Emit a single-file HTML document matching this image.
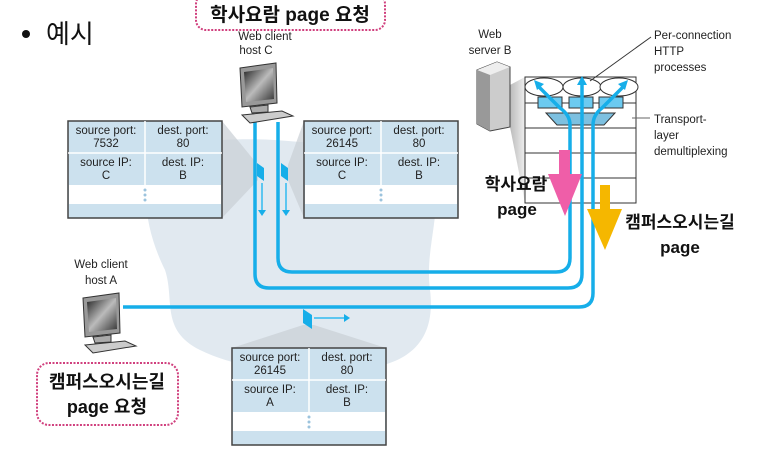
<!DOCTYPE html>
<html><head><meta charset="utf-8"><style>
html,body{margin:0;padding:0;background:#fff;width:784px;height:466px;overflow:hidden}
svg{display:block}
text{font-family:"Liberation Sans","Noto Sans CJK KR",sans-serif}
.s{font-size:11.5px;fill:#222}
.k{font-family:"Liberation Sans","Noto Sans CJK KR",sans-serif;font-weight:bold;fill:#111}
</style></head><body>
<svg width="784" height="466" viewBox="0 0 784 466" xmlns="http://www.w3.org/2000/svg">
<defs>
<linearGradient id="scr" x1="0" y1="0" x2="1" y2="1"><stop offset="0" stop-color="#222"/><stop offset="0.5" stop-color="#bbb"/><stop offset="1" stop-color="#333"/></linearGradient>
<linearGradient id="sh" x1="0" y1="0" x2="1" y2="0"><stop offset="0" stop-color="#bbb"/><stop offset="1" stop-color="#eee"/></linearGradient>
</defs>
<!-- cloud -->
<path d="M150 170 C160 140 230 135 300 142 C370 140 430 150 435 180 C440 220 425 250 430 290 C435 330 420 360 370 368 C300 375 240 370 200 350 C160 330 175 300 165 270 C150 240 140 200 150 170Z" fill="#e1e9f0"/>
<!-- shading wedges -->
<polygon points="222,121 258,165 258,180 222,218" fill="#c9ced4" opacity="0.7"/>
<polygon points="304,121 288,165 288,180 304,218" fill="#c9ced4" opacity="0.7"/>
<polygon points="232,348 303,325 314,325 386,348" fill="#c9ced4" opacity="0.7"/>
<polygon points="510,85 525,77 525,203 510,127" fill="url(#sh)"/>
<!-- tables -->
<g id="t1">
<rect x="68" y="121" width="154" height="97" fill="#cce1ee" stroke="#444" stroke-width="1.5"/>
<rect x="69" y="185" width="152" height="19" fill="#fff"/>
<line x1="68" y1="153" x2="222" y2="153" stroke="#fff" stroke-width="1.5"/>
<line x1="145" y1="121" x2="145" y2="204" stroke="#fff" stroke-width="1.5"/>
<circle cx="145" cy="190" r="1.5" fill="#9cc3dd"/><circle cx="145" cy="195" r="1.5" fill="#9cc3dd"/><circle cx="145" cy="200" r="1.5" fill="#9cc3dd"/>
</g>
<text class="s" x="106" y="134" text-anchor="middle">source port:</text><text class="s" x="106" y="147" text-anchor="middle">7532</text>
<text class="s" x="183" y="134" text-anchor="middle">dest. port:</text><text class="s" x="183" y="147" text-anchor="middle">80</text>
<text class="s" x="106" y="166" text-anchor="middle">source IP:</text><text class="s" x="106" y="179" text-anchor="middle">C</text>
<text class="s" x="183" y="166" text-anchor="middle">dest. IP:</text><text class="s" x="183" y="179" text-anchor="middle">B</text>
<use href="#t1" x="236" y="0"/>
<text class="s" x="342" y="134" text-anchor="middle">source port:</text><text class="s" x="342" y="147" text-anchor="middle">26145</text>
<text class="s" x="419" y="134" text-anchor="middle">dest. port:</text><text class="s" x="419" y="147" text-anchor="middle">80</text>
<text class="s" x="342" y="166" text-anchor="middle">source IP:</text><text class="s" x="342" y="179" text-anchor="middle">C</text>
<text class="s" x="419" y="166" text-anchor="middle">dest. IP:</text><text class="s" x="419" y="179" text-anchor="middle">B</text>
<use href="#t1" x="164" y="227"/>
<text class="s" x="270" y="361" text-anchor="middle">source port:</text><text class="s" x="270" y="374" text-anchor="middle">26145</text>
<text class="s" x="347" y="361" text-anchor="middle">dest. port:</text><text class="s" x="347" y="374" text-anchor="middle">80</text>
<text class="s" x="270" y="393" text-anchor="middle">source IP:</text><text class="s" x="270" y="406" text-anchor="middle">A</text>
<text class="s" x="347" y="393" text-anchor="middle">dest. IP:</text><text class="s" x="347" y="406" text-anchor="middle">B</text>
<!-- server box -->
<rect x="525" y="77" width="111" height="126" fill="#fff" stroke="#333" stroke-width="1"/>
<g stroke="#333" stroke-width="1"><line x1="525" y1="103" x2="636" y2="103"/><line x1="525" y1="128" x2="636" y2="128"/><line x1="525" y1="153" x2="636" y2="153"/><line x1="525" y1="178" x2="636" y2="178"/></g>
<g fill="#fff" stroke="#333"><ellipse cx="544" cy="87" rx="19" ry="9"/><ellipse cx="582" cy="87" rx="19" ry="9"/><ellipse cx="619" cy="87" rx="19" ry="9"/></g>
<g fill="#6ccaf0" stroke="#333"><rect x="538" y="97" width="24" height="11"/><rect x="569" y="97" width="24" height="11"/><rect x="599" y="97" width="24" height="11"/></g>
<polygon points="546,113 615,113 604,125 557,125" fill="#7dc0e0" stroke="#333"/>
<!-- connection lines -->
<g fill="none" stroke="#16aee9" stroke-width="3.5">
<path d="M278 122 V258 Q278 272 292 272 H556 Q570 272 570 258 V128 L570 125 Q570 115 560 108 L538 86"/>
<path d="M255 122 V274 Q255 288 269 288 H568 Q582 288 582 274 V82"/>
<path d="M123 307 H579 Q593 307 593 293 V125 Q593 115 602 108 L624 86"/>
</g>
<g fill="#16aee9"><polygon points="534,80 544,84 537,90"/><polygon points="582,76 577,85 587,85"/><polygon points="628,80 618,84 625,90"/></g>
<!-- pink/orange arrows -->
<polygon points="559,150 570,150 570,174 582,174 565,216 548,174 559,174" fill="#ef5ea8"/>
<polygon points="600,185 610,185 610,209 622,209 605,250 587,209 600,209" fill="#f5b700"/>
<!-- packets -->
<g fill="#16aee9"><polygon points="257,163 264,168 264,181 257,176"/><polygon points="281,163 288,168 288,181 281,176"/><polygon points="303,309 312,315 312,329 303,323"/></g>
<g stroke="#5cc6f0" stroke-width="2"><line x1="262" y1="183" x2="262" y2="211"/><line x1="286" y1="183" x2="286" y2="211"/><line x1="314" y1="318" x2="345" y2="318"/></g>
<g fill="#16aee9"><polygon points="258,210 266,210 262,216"/><polygon points="282,210 290,210 286,216"/><polygon points="344,314 350,318 344,322"/></g>
<!-- computers -->
<g id="pc">
<polygon points="240,68 276,63 277,103 242,107" fill="#999" stroke="#333"/>
<polygon points="244,72 273,68 274,99 246,102" fill="url(#scr)"/>
<polygon points="250,107 268,105 268,112 252,113" fill="#aaa" stroke="#333"/>
<polygon points="242,115 282,111 293,116 250,123" fill="#ccc" stroke="#333"/>
</g>
<use href="#pc" x="-157" y="230"/>
<polygon points="477,70 497,62 510,67 510,127 490,131 477,124" fill="#ccc" stroke="#444"/>
<polygon points="477,70 497,62 510,67 490,75" fill="#eee"/>
<polygon points="477,70 490,75 490,131 477,124" fill="#999"/>
<!-- labels -->
<text class="s" x="265" y="40" text-anchor="middle" font-size="12">Web client</text>
<text class="s" x="256" y="54" text-anchor="middle" font-size="12">host C</text>
<text class="s" x="101" y="268" text-anchor="middle">Web client</text>
<text class="s" x="101" y="284" text-anchor="middle">host A</text>
<text class="s" x="490" y="38" text-anchor="middle">Web</text>
<text class="s" x="490" y="54" text-anchor="middle">server B</text>
<text class="s" x="654" y="39">Per-connection</text>
<text class="s" x="654" y="55">HTTP</text>
<text class="s" x="654" y="71">processes</text>
<text class="s" x="654" y="123">Transport-</text>
<text class="s" x="654" y="139">layer</text>
<text class="s" x="654" y="155">demultiplexing</text>
<line x1="590" y1="81" x2="651" y2="37" stroke="#333"/>
<line x1="632" y1="118" x2="650" y2="118" stroke="#666"/>
<!-- bullet -->
<circle cx="26" cy="34" r="4" fill="#111"/>
<text x="46" y="43" font-size="26" fill="#111" style="font-family:'Liberation Sans','Noto Sans CJK KR',sans-serif">예시</text>
<!-- bubbles -->
<rect x="196" y="-6" width="189" height="36" rx="10" fill="#fff" stroke="#d0407e" stroke-width="2" stroke-dasharray="2 1.5"/>
<text class="k" x="290" y="21" font-size="19" text-anchor="middle">학사요람 page 요청</text>
<rect x="37" y="363" width="141" height="62" rx="12" fill="#fff" stroke="#d0407e" stroke-width="2" stroke-dasharray="2 1.5"/>
<text class="k" x="107" y="388" font-size="18" text-anchor="middle">캠퍼스오시는길</text>
<text class="k" x="107" y="413" font-size="18" text-anchor="middle">page 요청</text>
<text class="k" x="516" y="190" font-size="17" text-anchor="middle">학사요람</text>
<text class="k" x="517" y="215" font-size="17" text-anchor="middle">page</text>
<text class="k" x="680" y="228" font-size="17" text-anchor="middle">캠퍼스오시는길</text>
<text class="k" x="680" y="253" font-size="17" text-anchor="middle">page</text>
</svg>
</body></html>
